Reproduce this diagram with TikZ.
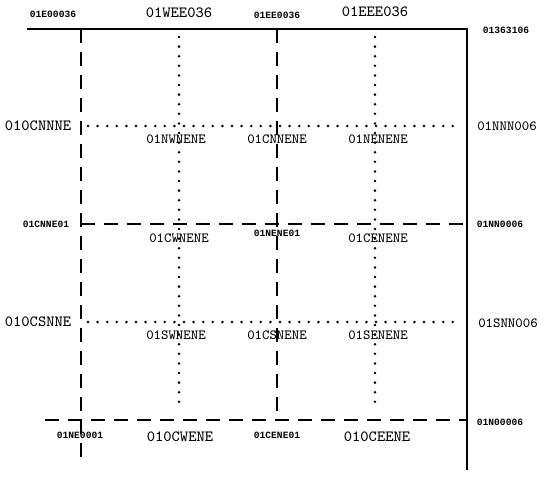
\documentclass[tikz,border=0pt]{standalone}
\usepackage{fontspec}
\newfontfamily\gridbold{Liberation Mono}
\begin{document}
\begin{tikzpicture}[x=0.5pt, y=-0.5pt,
  edge/.style={line width=1pt},
  dashline/.style={line width=1.1pt, dash pattern=on 7pt off 4.5pt},
  dotline/.style={line width=1.4pt, line cap=round, dash pattern=on 0pt off 4.8pt},
  biglabel/.style={font=\ttfamily\fontsize{7}{7}\selectfont, inner sep=1pt},
  toplabel/.style={font=\ttfamily\fontsize{7.8}{8}\selectfont, inner sep=1pt},
  smalllabel/.style={font=\gridbold\bfseries\fontsize{4.8}{5}\selectfont, inner sep=1pt}]
  \useasboundingbox (0,0) rectangle (548,479);

  % grid lines
  \coordinate (tl) at (27,29);
  \coordinate (tr) at (467,29);
  \coordinate (br) at (467,470);
  \draw[edge] (tl) -- (tr) -- (br);
  \draw[dashline] (81,29) -- (81,458);
  \draw[dashline] (277,29) -- (277,420);
  \draw[dashline] (81,224) -- (467,224);
  \draw[dashline] (45,420) -- (467,420);
  \draw[dotline] (179,37) -- (179,410);
  \draw[dotline] (375,37) -- (375,410);
  \draw[dotline] (88,126) -- (462,126);
  \draw[dotline] (88,322) -- (462,322);

  % top
  \node[smalllabel] (e00) at (53,14) {01E00036};
  \node[toplabel] (wee) at (179,13) {01WEE036};
  \node[smalllabel] (ee0) at (277,15) {01EE0036};
  \node[toplabel] (eee) at (375,12) {01EEE036};
  \node[smalllabel] (c363) at (506,30) {01363106};

  % left
  \node[toplabel] (cnnne) at (38,126) {010CNNNE};
  \node[smalllabel] (cnne) at (46,224) {01CNNE01};
  \node[toplabel] (csnne) at (38,322) {010CSNNE};

  % right
  \node[biglabel] (nnn) at (507,126) {01NNN006};
  \node[smalllabel] (nn0) at (500,224) {01NN0006};
  \node[biglabel] (snn) at (508,323) {01SNN006};
  \node[smalllabel] (n00) at (500,422) {01N00006};

  % inside
  \node[biglabel] (nw) at (176,139) {01NWNENE};
  \node[biglabel] (cn) at (277,139) {01CNNENE};
  \node[biglabel] (ne) at (378,139) {01NENENE};
  \node[biglabel] (cw) at (179,238) {01CWNENE};
  \node[smalllabel] (nen) at (277,233) {01NENE01};
  \node[biglabel] (ce) at (378,238) {01CENENE};
  \node[biglabel] (sw) at (176,335) {01SWNENE};
  \node[biglabel] (cs) at (277,335) {01CSNENE};
  \node[biglabel] (se) at (378,335) {01SENENE};

  % bottom
  \node[smalllabel] (ne0) at (80,435) {01NE0001};
  \node[toplabel] (ocw) at (180,437) {010CWENE};
  \node[smalllabel] (cene) at (277,435) {01CENE01};
  \node[toplabel] (oce) at (377,437) {010CEENE};
\end{tikzpicture}
\end{document}
